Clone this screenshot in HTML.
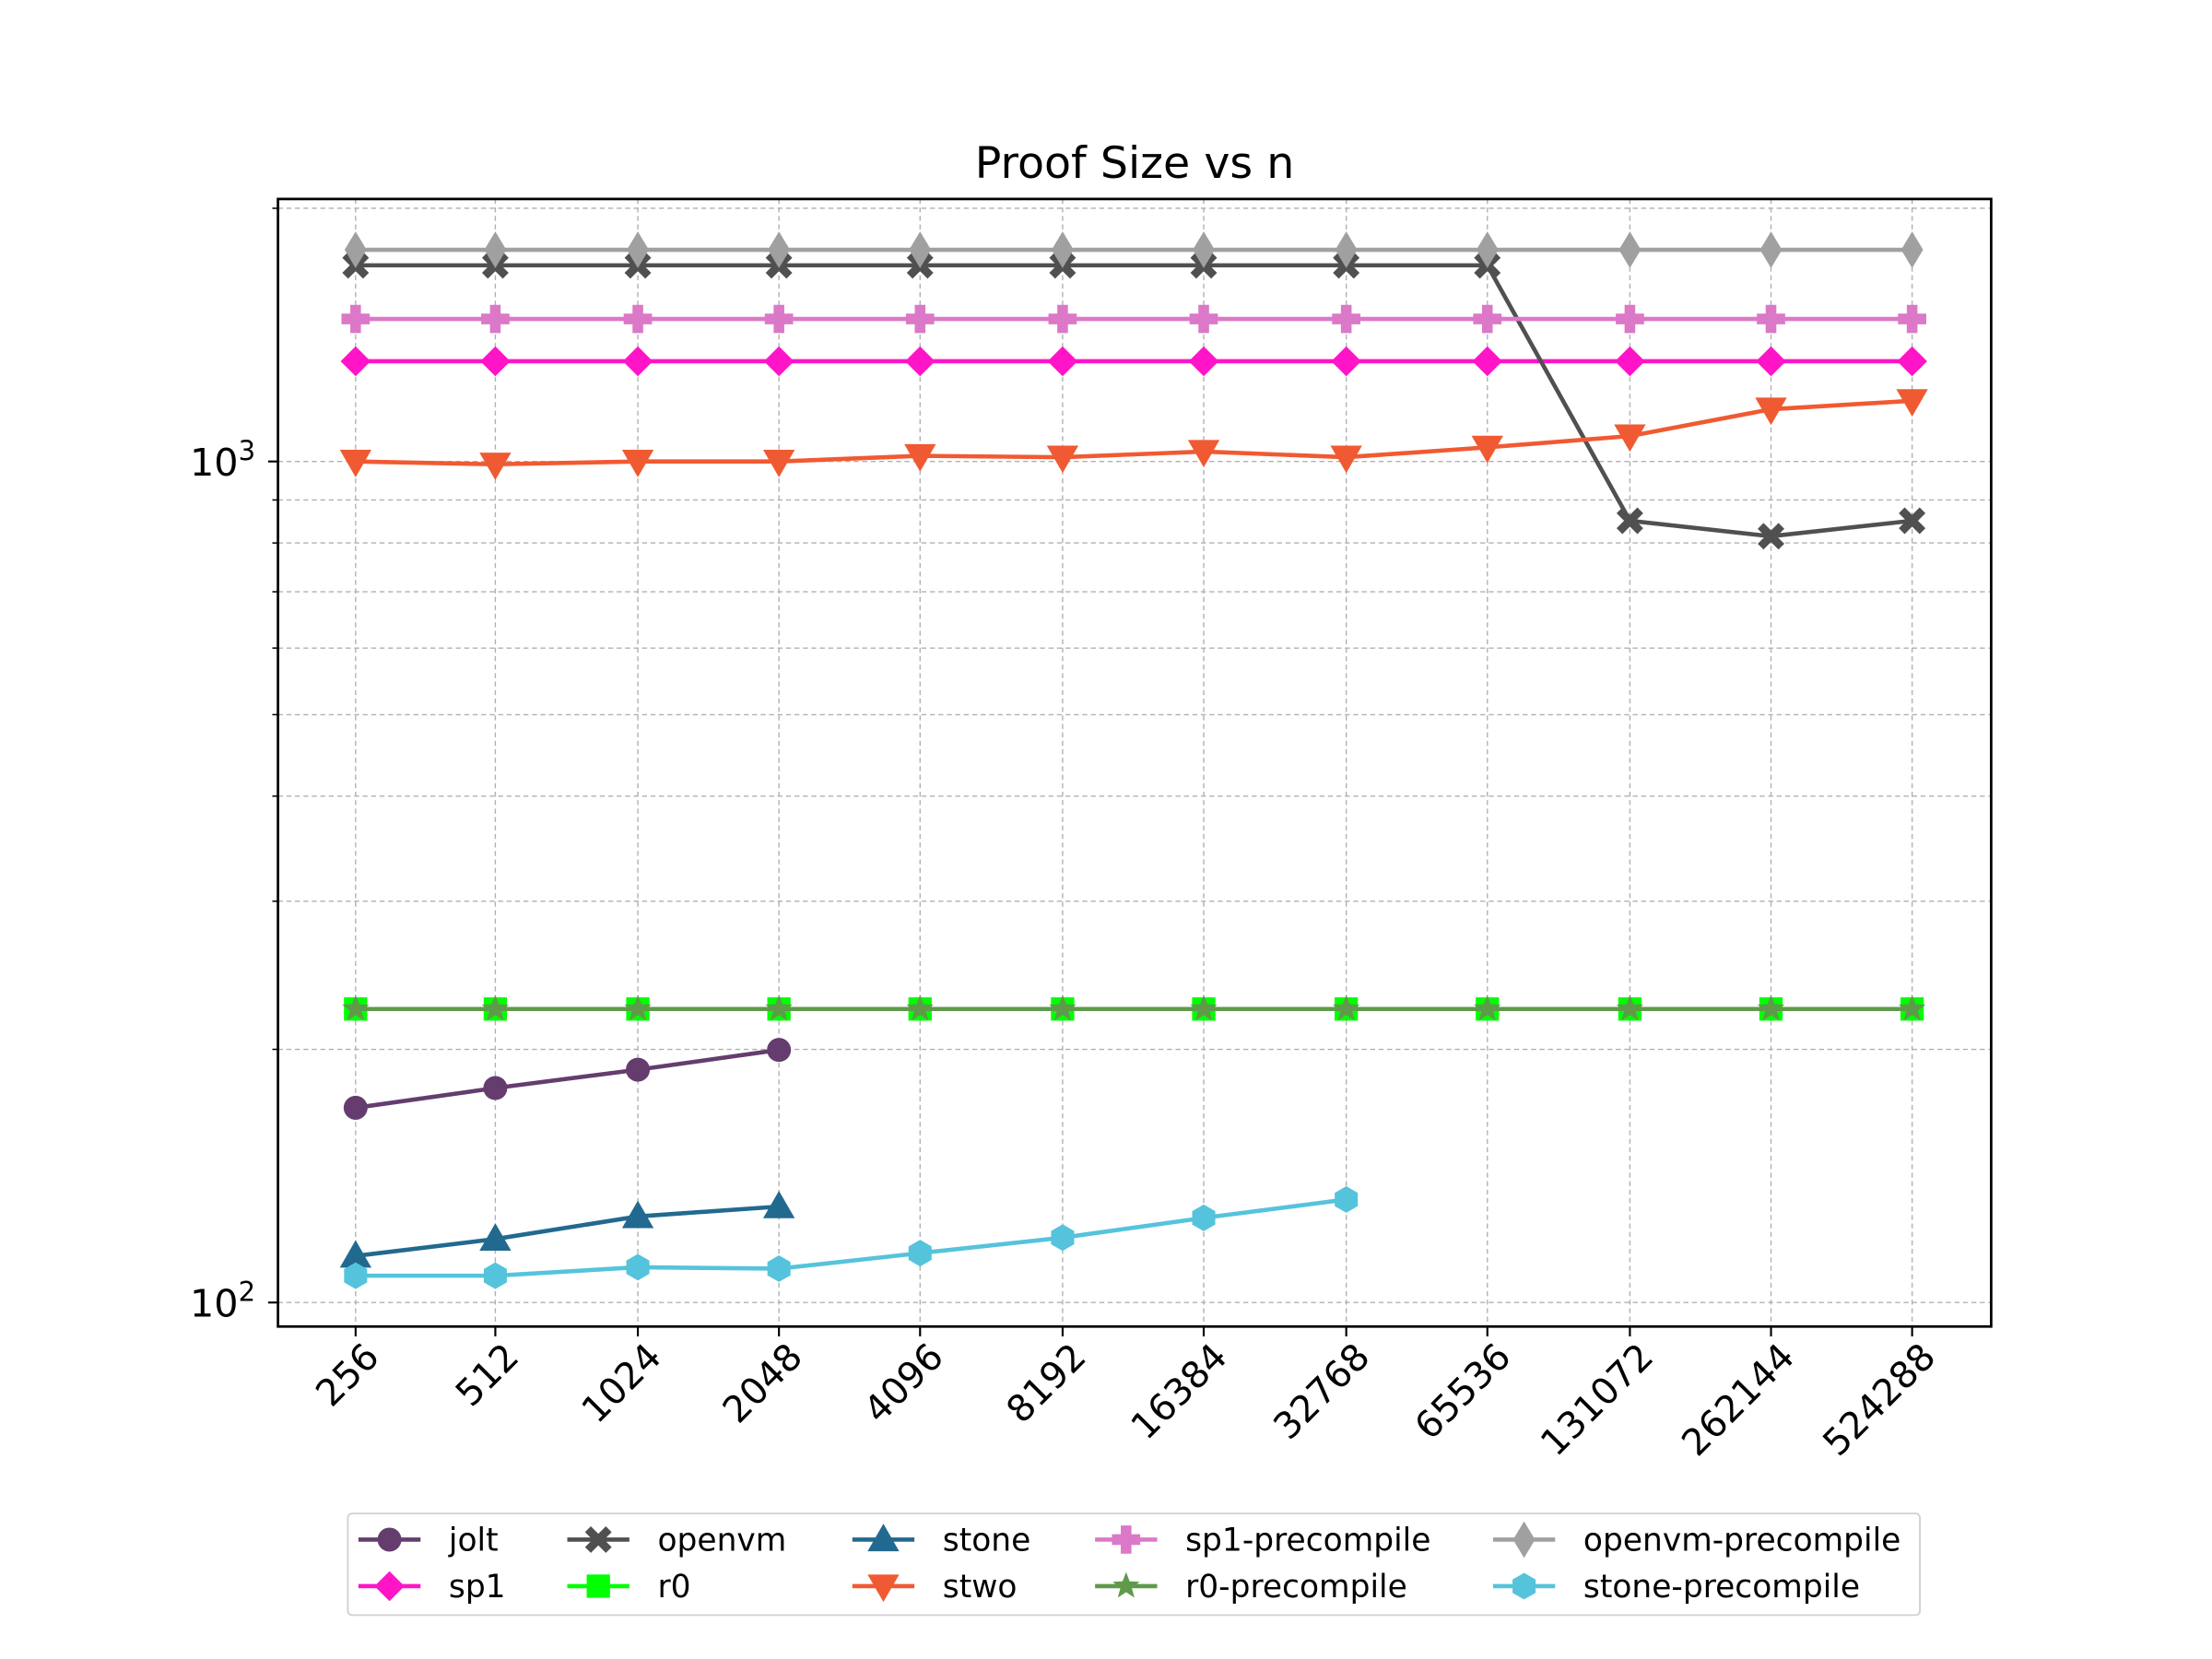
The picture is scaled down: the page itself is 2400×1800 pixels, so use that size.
<!DOCTYPE html>
<html><head><meta charset="utf-8"><style>
html,body{margin:0;padding:0;background:#fff;}
svg{display:block;}
text{font-family:"DejaVu Sans","Liberation Sans",sans-serif;}
</style></head><body>
<svg id="c" width="2400" height="1800" viewBox="0 0 1567.5 1175.6" xmlns="http://www.w3.org/2000/svg">
<rect width="1567.5" height="1175.6" fill="#fff"/>
<g id="grid"></g>
<g id="series"></g>
<rect x="197" y="141" width="1214" height="799" fill="none" stroke="#000" stroke-width="1.8"/>
<g id="ticks"></g>
<text x="804" y="126" font-size="31" text-anchor="middle">Proof Size vs n</text>
<g id="legend"></g>
</svg>
<script>
var NS="http://www.w3.org/2000/svg";
function el(p,t,a,txt){var e=document.createElementNS(NS,t);for(var k in a)e.setAttribute(k,a[k]);if(txt!=null)e.textContent=txt;p.appendChild(e);return e;}
var G=document.getElementById('grid'),S=document.getElementById('series'),T=document.getElementById('ticks'),L=document.getElementById('legend');
var X=[252,351,452,552,652,753,853,954,1054,1155,1255,1355];
var labels=["256","512","1024","2048","4096","8192","16384","32768","65536","131072","262144","524288"];
var y2=923,dec=596;
function yv(v){return y2-dec*Math.log10(v/100);}
X.forEach(function(x){el(G,'line',{x1:x,x2:x,y1:141,y2:940,stroke:'#b0b0b0','stroke-width':0.9,'stroke-dasharray':'3.5,2.5'});});
var ys=[];[100,200,300,400,500,600,700,800,900,1000,2000].forEach(function(v){ys.push([v,yv(v)]);});
ys.forEach(function(p){el(G,'line',{x1:197,x2:1411,y1:p[1],y2:p[1],stroke:'#b0b0b0','stroke-width':0.9,'stroke-dasharray':'3.5,2.5'});
 var major=(p[0]==100||p[0]==1000);
 el(T,'line',{x1:197,x2:major?190:193,y1:p[1],y2:p[1],stroke:'#000','stroke-width':major?1.4:1});});
el(T,'text',{x:181,y:yv(1000)+10,'font-size':27,'text-anchor':'end'},null).innerHTML='10<tspan dy="-11" font-size="19">3</tspan>';
el(T,'text',{x:181,y:yv(100)+10,'font-size':27,'text-anchor':'end'},null).innerHTML='10<tspan dy="-11" font-size="19">2</tspan>';
X.forEach(function(x,i){el(T,'line',{x1:x,x2:x,y1:940,y2:947,stroke:'#000','stroke-width':1.4});
 el(T,'text',{x:0,y:0,'font-size':26,'text-anchor':'end',transform:'translate('+(x+18)+','+(963)+') rotate(-45)'},labels[i]);});
function marker(p,type,x,y,col){
 var k=1.18;
 switch(type){
 case 'o':el(p,'circle',{cx:x,cy:y,r:7.2*k,fill:col});break;
 case 'D':el(p,'polygon',{points:[x,y-9*k,x+9*k,y,x,y+9*k,x-9*k,y].join(','),fill:col});break;
 case 'd':el(p,'polygon',{points:[x,y-11*k,x+6.6*k,y,x,y+11*k,x-6.6*k,y].join(','),fill:col});break;
 case 's':el(p,'rect',{x:x-7*k,y:y-7*k,width:14*k,height:14*k,fill:col});break;
 case '^':el(p,'polygon',{points:[x,y-9.5*k,x+9.5*k,y+7*k,x-9.5*k,y+7*k].join(','),fill:col});break;
 case 'v':el(p,'polygon',{points:[x,y+9.5*k,x+9.5*k,y-7*k,x-9.5*k,y-7*k].join(','),fill:col});break;
 case 'P':var w=3.2*k,h=8.5*k;el(p,'path',{d:'M'+(x-w)+','+(y-h)+'h'+2*w+'v'+(h-w)+'h'+(h-w)+'v'+2*w+'h'+(w-h)+'v'+(h-w)+'h'+(-2*w)+'v'+(w-h)+'h'+(w-h)+'v'+(-2*w)+'h'+(h-w)+'z',fill:col});break;
 case 'X':el(p,'path',{d:'M'+x+','+y+'m0,-3.5l4.5,-4.5l3.5,3.5l-4.5,4.5l4.5,4.5l-3.5,3.5l-4.5,-4.5l-4.5,4.5l-3.5,-3.5l4.5,-4.5l-4.5,-4.5l3.5,-3.5z',fill:col,transform:'translate('+x+','+y+') scale('+k+') translate('+(-x)+','+(-y)+')'});break;
 case '*':var pts=[];for(var i=0;i<10;i++){var r=(i%2?3.6:8.5)*k,t=-Math.PI/2+i*Math.PI/5;pts.push(x+r*Math.cos(t),y+r*Math.sin(t));}el(p,'polygon',{points:pts.join(','),fill:col});break;
 case 'h':var pts=[];for(var i=0;i<6;i++){var t=-Math.PI/2+i*Math.PI/3;pts.push(x+8*k*Math.cos(t),y+8*k*Math.sin(t));}el(p,'polygon',{points:pts.join(','),fill:col});break;
 }
}
var series=[
 {n:'jolt',c:'#643d6e',m:'o',y:[785,771,758,744]},
 {n:'sp1',c:'#ff14c8',m:'D',y:[256,256,256,256,256,256,256,256,256,256,256,256]},
 {n:'openvm',c:'#505050',m:'X',y:[188,188,188,188,188,188,188,188,188,369,380,369]},
 {n:'r0',c:'#00ff00',m:'s',y:[715,715,715,715,715,715,715,715,715,715,715,715]},
 {n:'stone',c:'#22698f',m:'^',y:[890,878,862,855]},
 {n:'stwo',c:'#f05a32',m:'v',y:[327,329,327,327,323,324,320,324,317,309,290,284]},
 {n:'sp1-precompile',c:'#dc78c8',m:'P',y:[226,226,226,226,226,226,226,226,226,226,226,226]},
 {n:'r0-precompile',c:'#5e9a4a',m:'*',y:[715,715,715,715,715,715,715,715,715,715,715,715]},
 {n:'openvm-precompile',c:'#a0a0a0',m:'d',y:[177,177,177,177,177,177,177,177,177,177,177,177]},
 {n:'stone-precompile',c:'#55c3dc',m:'h',y:[904,904,898,899,888,877,863,850]}
];
series.forEach(function(s){
 var g=el(S,'g',{});
 var pts=s.y.map(function(y,i){return X[i]+','+y;}).join(' ');
 el(g,'polyline',{points:pts,fill:'none',stroke:s.c,'stroke-width':3,'stroke-linejoin':'round'});
 s.y.forEach(function(y,i){marker(g,s.m,X[i],y,s.c);});
});
el(L,'rect',{x:246.5,y:1072.5,width:1114,height:72,rx:3,fill:'#fff','fill-opacity':0.8,stroke:'#d0d0d0','stroke-width':1.2});
var cols=[[254,318],[402,468],[604,670],[776,842],[1058,1126]],rows=[1091,1124];
series.forEach(function(s,i){var c=cols[Math.floor(i/2)],r=rows[i%2];
 el(L,'line',{x1:c[0],x2:c[0]+44,y1:r,y2:r,stroke:s.c,'stroke-width':3});
 marker(L,s.m,c[0]+22,r,s.c);
 el(L,'text',{x:c[0]+64,y:r+8,'font-size':22.5},s.n);});
</script>
</body></html>
